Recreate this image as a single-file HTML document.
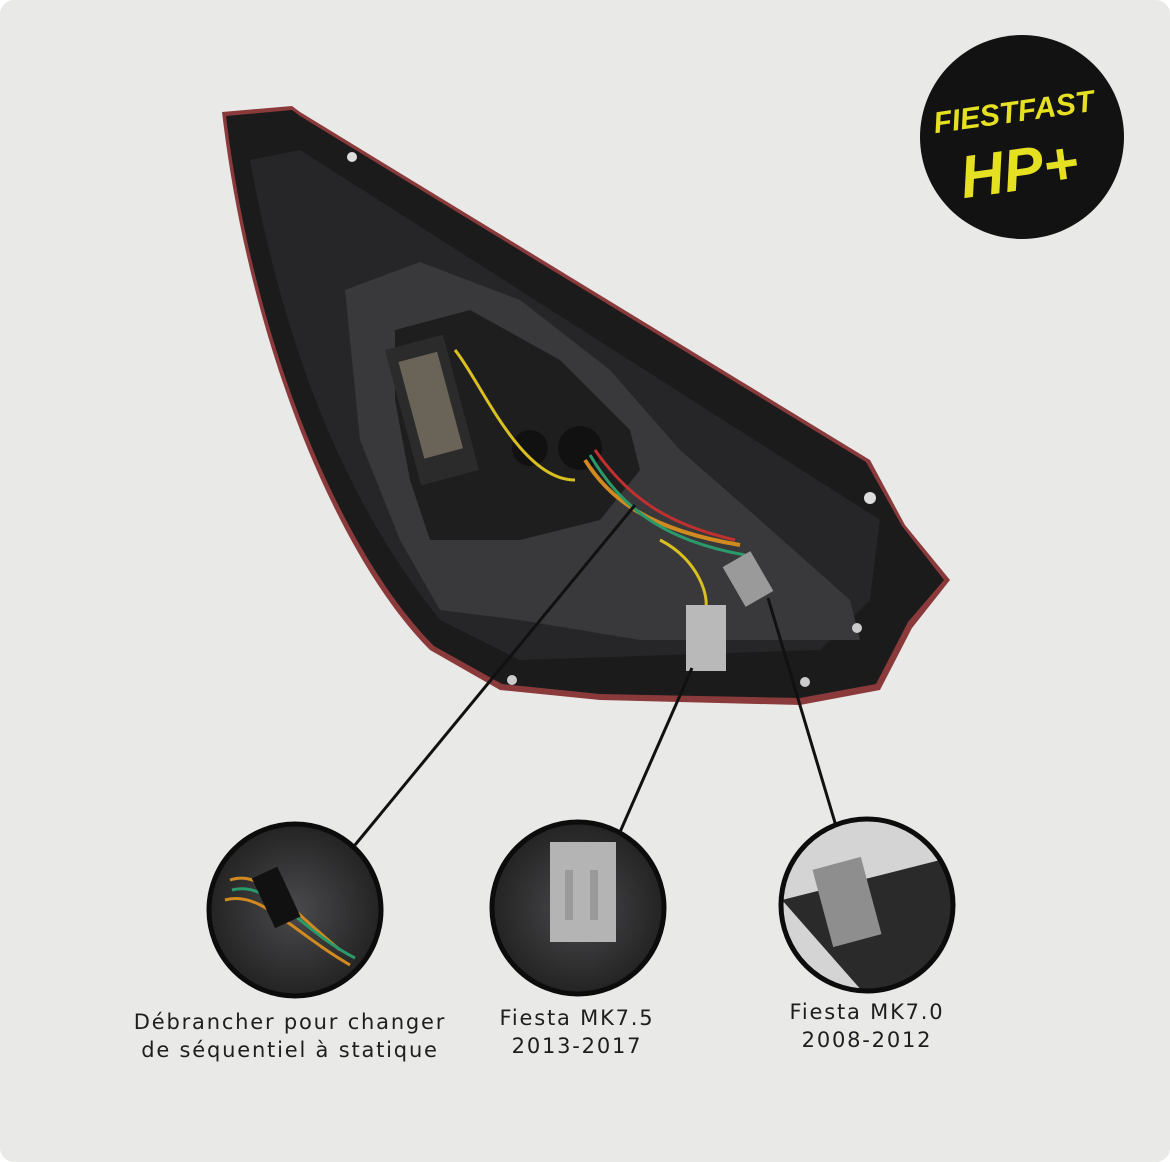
<!DOCTYPE html>
<html><head><meta charset="utf-8"><style>
html,body{margin:0;padding:0;background:#fff}
.wrap{width:1170px;height:1162px;position:relative;overflow:hidden;background:#fff}
.bg{position:absolute;left:0;top:0;width:1170px;height:1162px;background:#e9e9e8;border-radius:14px}
.t{position:absolute;font-family:"DejaVu Sans","Liberation Sans",sans-serif;font-size:21px;color:#1e1e1e;text-align:center;letter-spacing:1.8px;line-height:28px}
</style></head><body><div class="wrap"><div class="bg"></div>
<svg width="1170" height="1162" style="position:absolute;left:0;top:0">
<defs>
<radialGradient id="g1" cx="50%" cy="50%" r="60%"><stop offset="0" stop-color="#4a4a4c"/><stop offset="1" stop-color="#1c1c1d"/></radialGradient>
<clipPath id="c1"><circle cx="295" cy="910" r="85"/></clipPath>
<clipPath id="c2"><circle cx="578" cy="908" r="85"/></clipPath>
<clipPath id="c3"><circle cx="867" cy="905" r="85"/></clipPath>
</defs>
<path d="M222,112 L292,106 L300,112 L870,460 L905,525 L950,580 L912,628 L880,690 L800,705 L600,700 L500,690 L430,650 C340,560 250,350 222,112 Z" fill="#8a3a3a"/>
<path d="M226,116 L292,110 L300,116 L866,462 L902,526 L944,580 L908,622 L876,684 L800,698 L600,694 L502,684 L434,646 C344,556 254,350 226,116 Z" fill="#1b1b1c"/>
<path d="M250,160 L300,150 L880,520 L870,600 L820,650 L520,660 L440,620 C360,520 290,380 250,160 Z" fill="#262628"/>
<path d="M345,290 L420,262 L520,300 L610,370 L680,450 L760,520 L850,600 L860,640 L640,640 L520,620 L440,610 L400,540 L360,440 Z" fill="#39393b"/>
<path d="M395,330 L470,310 L560,360 L630,430 L640,470 L600,520 L520,540 L430,540 L410,480 L395,400 Z" fill="#1e1e1f"/>
<rect x="402" y="340" width="60" height="140" fill="#2b2b2b" transform="rotate(-15 432 410)"/>
<rect x="412" y="355" width="40" height="100" fill="#6a6458" transform="rotate(-15 432 410)"/>
<circle cx="530" cy="448" r="18" fill="#111"/><circle cx="580" cy="448" r="22" fill="#111"/>
<path d="M455,350 C480,380 520,480 575,480" stroke="#d9c020" stroke-width="3" fill="none"/>
<path d="M585,460 C610,500 650,530 740,545" stroke="#d08a20" stroke-width="4" fill="none"/>
<path d="M590,455 C620,505 660,540 745,555" stroke="#2a9a6a" stroke-width="3" fill="none"/>
<path d="M595,450 C630,500 670,525 735,540" stroke="#c03030" stroke-width="3" fill="none"/>
<path d="M660,540 C700,560 710,600 705,610" stroke="#d9c020" stroke-width="3" fill="none"/>
<rect x="686" y="605" width="40" height="66" fill="#b9b9b9"/>
<rect x="732" y="556" width="32" height="46" fill="#9a9a9a" transform="rotate(-30 748 579)"/>
<circle cx="352" cy="157" r="5" fill="#ddd"/><circle cx="870" cy="498" r="6" fill="#ddd"/><circle cx="857" cy="628" r="5" fill="#ccc"/>
<circle cx="512" cy="680" r="5" fill="#ccc"/><circle cx="805" cy="682" r="5" fill="#ccc"/>
<line x1="355" y1="845" x2="635" y2="505" stroke="#111" stroke-width="3"/>
<line x1="620" y1="832" x2="692" y2="668" stroke="#111" stroke-width="3"/>
<line x1="836" y1="826" x2="768" y2="598" stroke="#111" stroke-width="3"/>
<circle cx="295" cy="910" r="85" fill="url(#g1)"/>
<g clip-path="url(#c1)">
<path d="M230,880 C260,870 280,900 340,950 M225,900 C260,890 290,930 350,965" stroke="#d08a20" stroke-width="3" fill="none"/>
<path d="M232,890 C270,880 300,930 355,958" stroke="#2a9a6a" stroke-width="3" fill="none"/>
<rect x="262" y="870" width="28" height="55" fill="#111" transform="rotate(-25 276 897)"/>
</g>
<circle cx="295" cy="910" r="86" fill="none" stroke="#0c0c0c" stroke-width="5"/>
<circle cx="578" cy="908" r="85" fill="url(#g1)"/>
<g clip-path="url(#c2)">
<rect x="550" y="842" width="66" height="100" fill="#b4b4b4"/>
<rect x="565" y="870" width="8" height="50" fill="#9a9a9a"/><rect x="590" y="870" width="8" height="50" fill="#9a9a9a"/>
</g>
<circle cx="578" cy="908" r="86" fill="none" stroke="#0c0c0c" stroke-width="5"/>
<circle cx="867" cy="905" r="85" fill="#d4d4d4"/>
<g clip-path="url(#c3)">
<path d="M782,900 L960,855 L960,1000 L870,1000 Z" fill="#2a2a2b"/>
<rect x="822" y="862" width="50" height="80" fill="#8e8e8e" transform="rotate(-15 847 902)"/>
</g>
<circle cx="867" cy="905" r="86" fill="none" stroke="#0c0c0c" stroke-width="5"/>
<circle cx="1022" cy="137" r="102" fill="#121212"/>
<text x="1015" y="122" font-family="Liberation Sans, sans-serif" font-weight="bold" font-style="italic" font-size="30" fill="#e6e022" text-anchor="middle" transform="rotate(-8 1015 122)">FIESTFAST</text>
<text x="1022" y="190" font-family="Liberation Sans, sans-serif" font-weight="bold" font-style="italic" font-size="60" fill="#e6e022" text-anchor="middle" transform="rotate(-8 1022 190)">HP+</text>
</svg>
<div class="t" style="left:90px;top:1008px;width:400px">Débrancher pour changer<br>de séquentiel à statique</div>
<div class="t" style="left:457px;top:1004px;width:240px">Fiesta MK7.5<br>2013-2017</div>
<div class="t" style="left:747px;top:998px;width:240px">Fiesta MK7.0<br>2008-2012</div>
</div></body></html>
